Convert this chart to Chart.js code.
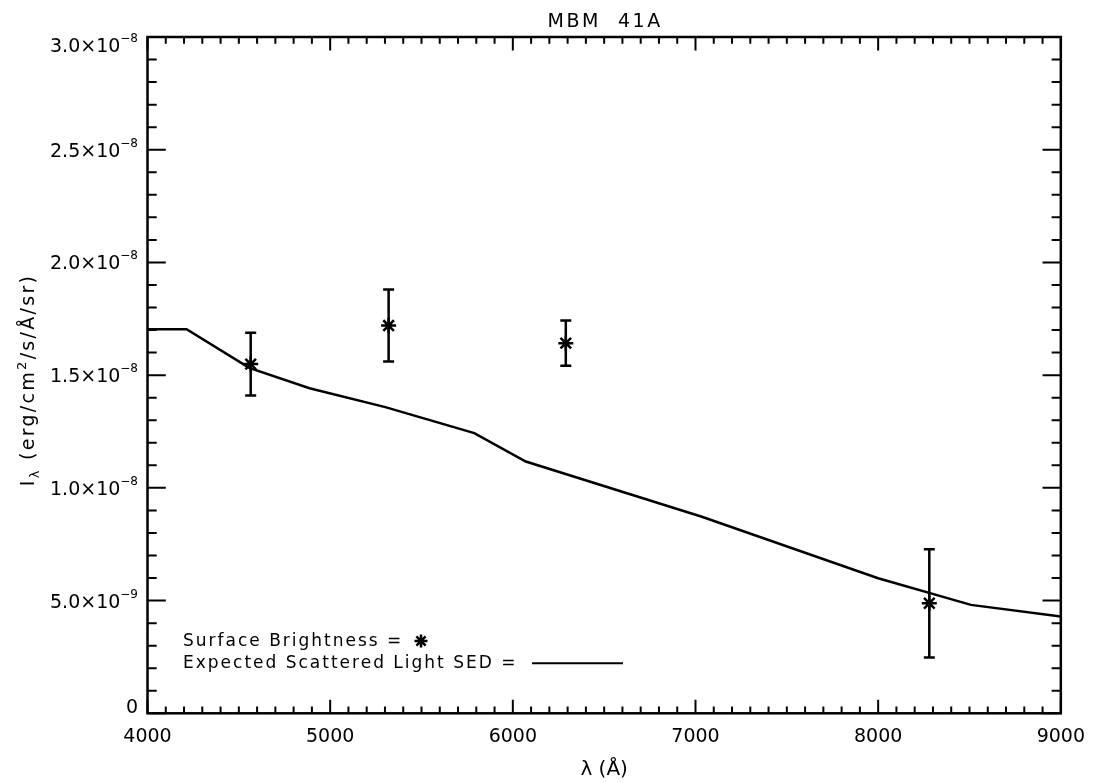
<!DOCTYPE html>
<html>
<head>
<meta charset="utf-8">
<script src="https://cdn.jsdelivr.net/npm/chart.js@4.4.0/dist/chart.umd.min.js"></script>
<style>
html, body { margin: 0; padding: 0; background: #fff; }
</style>
</head>
<body>
<canvas id="mycanvas" width="1097" height="782"></canvas>
<script>
// expected scattered light SED (line)
var sedWave = [4000, 4214, 4557, 4887, 5302, 5789, 6071, 7035, 8000, 8508, 9000];
var sedFlux = [1.704e-8, 1.704e-8, 1.532e-8, 1.442e-8, 1.358e-8, 1.243e-8, 1.117e-8, 0.872e-8, 0.599e-8, 0.481e-8, 0.429e-8];

// measured surface brightness with errors
var sbWave = [4565, 5320, 6290, 8280];
var sbFlux = [1.549e-8, 1.720e-8, 1.642e-8, 0.488e-8];
var sbErr  = [0.139e-8, 0.160e-8, 0.100e-8, 0.240e-8];

// axis ticks
var xTicks = [4000, 5000, 6000, 7000, 8000, 9000];
var yTicks = [0, 5e-9, 1e-8, 1.5e-8, 2e-8, 2.5e-8, 3e-8];
var yTickMant = ['0', '5.0\u00d710', '1.0\u00d710', '1.5\u00d710', '2.0\u00d710', '2.5\u00d710', '3.0\u00d710'];
var yTickExp  = ['', '\u22129', '\u22128', '\u22128', '\u22128', '\u22128', '\u22128'];

var FONT = "'DejaVu Sans', 'Liberation Sans', sans-serif";

var sedData = sedWave.map(function(w, i) { return {x: w, y: sedFlux[i]}; });
var sbData = sbWave.map(function(w, i) { return {x: w, y: sbFlux[i]}; });

// draws a run of [text, size, shift] pieces starting at x, baseline y
function drawRuns(ctx, runs, x, y, spacing) {
	ctx.letterSpacing = spacing + 'px';
	runs.forEach(function(r) {
		ctx.font = r[1] + 'px ' + FONT;
		ctx.fillText(r[0], x, y + r[2]);
		x += ctx.measureText(r[0]).width;
	});
	ctx.letterSpacing = '0px';
}
function runsWidth(ctx, runs, spacing) {
	ctx.letterSpacing = spacing + 'px';
	var w = 0;
	runs.forEach(function(r) {
		ctx.font = r[1] + 'px ' + FONT;
		w += ctx.measureText(r[0]).width;
	});
	ctx.letterSpacing = '0px';
	return w;
}

var idlFrame = {
	id: 'idlFrame',
	afterDatasetsDraw: function(chart) {
		var ctx = chart.ctx, xs = chart.scales.x, ys = chart.scales.y, a = chart.chartArea;
		ctx.save();
		ctx.strokeStyle = '#000';
		ctx.fillStyle = '#000';
		ctx.lineCap = 'butt';

		// error bars
		ctx.lineWidth = 2.5;
		for (var i = 0; i < sbWave.length; i++) {
			var px = xs.getPixelForValue(sbWave[i]);
			var top = ys.getPixelForValue(sbFlux[i] + sbErr[i]);
			var bot = ys.getPixelForValue(sbFlux[i] - sbErr[i]);
			ctx.beginPath();
			ctx.moveTo(px, top); ctx.lineTo(px, bot);
			ctx.moveTo(px - 5.5, top); ctx.lineTo(px + 5.5, top);
			ctx.moveTo(px - 5.5, bot); ctx.lineTo(px + 5.5, bot);
			ctx.stroke();
		}

		// frame
		ctx.lineWidth = 2.5;
		ctx.strokeRect(a.left, a.top, a.right - a.left, a.bottom - a.top);

		// x ticks (inward, top and bottom)
		ctx.lineWidth = 2;
		ctx.beginPath();
		for (var v = xs.min; v <= xs.max + 1; v += 100) {
			var x = xs.getPixelForValue(v);
			var len = (Math.round(v) % 1000 === 0) ? 13.5 : 6.8;
			ctx.moveTo(x, a.bottom); ctx.lineTo(x, a.bottom - len);
			ctx.moveTo(x, a.top); ctx.lineTo(x, a.top + len);
		}
		// y ticks (inward, left and right)
		for (var k = 0; k <= 30; k++) {
			var y = ys.getPixelForValue(k * 1e-9);
			var ylen = (k % 5 === 0) ? 18.3 : 9.2;
			ctx.moveTo(a.left, y); ctx.lineTo(a.left + ylen, y);
			ctx.moveTo(a.right, y); ctx.lineTo(a.right - ylen, y);
		}
		ctx.stroke();

		// y tick labels, kept inside the axis range like IDL does
		ctx.textAlign = 'left';
		ctx.textBaseline = 'alphabetic';
		for (var j = 0; j < yTicks.length; j++) {
			var ty = ys.getPixelForValue(yTicks[j]);
			var base = Math.min(a.bottom, Math.max(a.top + 15, ty + 7));
			var runs = [[yTickMant[j], 19, 0]];
			if (yTickExp[j]) runs.push([yTickExp[j], 12, -10]);
			var w = runsWidth(ctx, runs, 0);
			drawRuns(ctx, runs, a.left - 9.5 - w, base, 0);
		}

		// y axis title, rotated
		var yt = [['I', 19, 0], ['\u03bb', 13, 5], [' (erg/cm', 19, 0], ['2', 13, -8], ['/s/\u00c5/sr)', 19, 0]];
		ctx.save();
		ctx.translate(34, 380);
		ctx.rotate(-Math.PI / 2);
		var tw = runsWidth(ctx, yt, 2.3);
		drawRuns(ctx, yt, -tw / 2, 0, 2.3);
		ctx.restore();

		// title
		ctx.font = '19px ' + FONT;
		ctx.textAlign = 'center';
		ctx.letterSpacing = '2.5px';
		ctx.fillText('MBM  41A', (a.left + a.right) / 2 + 1, 26.5);

		// in-plot legend
		ctx.font = '17px ' + FONT;
		ctx.textAlign = 'left';
		ctx.letterSpacing = '2px';
		ctx.fillText('Surface Brightness =', 183, 646);
		ctx.fillText('Expected Scattered Light SED =', 183, 668);
		ctx.letterSpacing = '0px';
		ctx.lineWidth = 2.5;
		Chart.helpers.drawPoint(ctx, {pointStyle: 'star', radius: 6.5, rotation: 0, borderWidth: 2.5}, 421, 641);
		ctx.lineWidth = 2;
		ctx.beginPath();
		ctx.moveTo(532, 663.3); ctx.lineTo(623, 663.3);
		ctx.stroke();
		ctx.restore();
	}
};

var ctx = document.getElementById('mycanvas').getContext('2d');
var chart = new Chart(ctx, {
	type: 'scatter',
	data: {
		datasets: [
			{
				label: 'Expected Scattered Light SED',
				data: sedData,
				showLine: true,
				borderColor: '#000',
				borderWidth: 2.5,
				pointRadius: 0,
				tension: 0
			},
			{
				label: 'Surface Brightness',
				data: sbData,
				pointStyle: 'star',
				pointRadius: 7.5,
				borderWidth: 2.5,
				borderColor: '#000',
				backgroundColor: '#000'
			}
		]
	},
	options: {
		responsive: false,
		animation: false,
		devicePixelRatio: 1,
		layout: { padding: { top: 37, right: 34, left: 0, bottom: 0 } },
		plugins: {
			legend: { display: false },
			tooltip: { enabled: false },
			title: { display: false }
		},
		scales: {
			x: {
				type: 'linear',
				min: 4000,
				max: 9000,
				grid: { display: false, drawTicks: false },
				border: { display: false },
				afterBuildTicks: function(s) { s.ticks = xTicks.map(function(v) { return {value: v}; }); },
				afterFit: function(s) { s.height = 68.7; },
				ticks: {
					color: '#000',
					font: { family: FONT, size: 19 },
					padding: 12,
					maxRotation: 0,
					callback: function(v) { return String(v); }
				},
				title: {
					display: true,
					text: '\u03bb (\u00c5)',
					color: '#000',
					font: { family: FONT, size: 20 },
					padding: { top: 12, bottom: 0 }
				}
			},
			y: {
				type: 'linear',
				min: 0,
				max: 3e-8,
				grid: { display: false, drawTicks: false },
				border: { display: false },
				afterBuildTicks: function(s) { s.ticks = yTicks.map(function(v) { return {value: v}; }); },
				afterFit: function(s) { s.width = 147.5; },
				ticks: { display: false }
			}
		}
	},
	plugins: [idlFrame]
});
</script>
</body>
</html>
